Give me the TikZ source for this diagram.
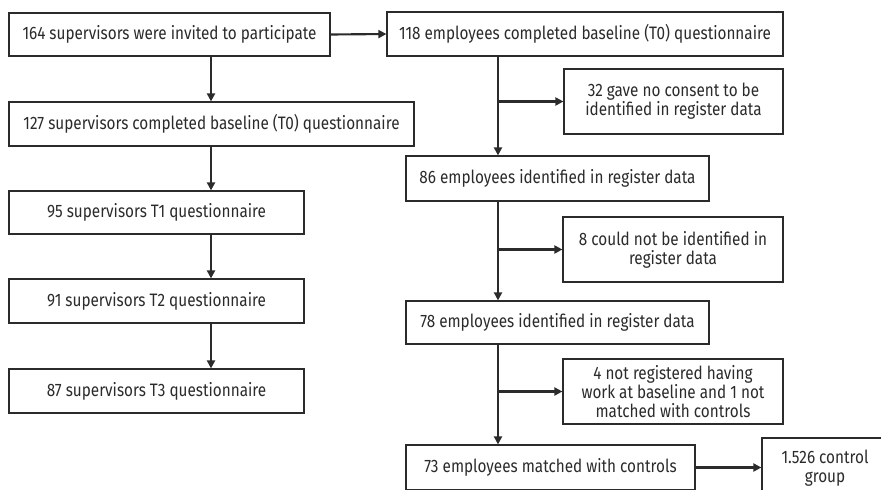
\documentclass[tikz,border=0pt]{standalone}
\usepackage{fontspec}
\setmainfont[FakeStretch=0.85]{Fira Sans}
\usetikzlibrary{arrows.meta}
\definecolor{ink}{HTML}{2B2B2B}
\begin{document}
\begin{tikzpicture}[x=0.75pt,y=-0.75pt,font=\fontsize{13.5}{14.3}\selectfont,text=ink,
  bx/.style 2 args={draw=ink,line width=0.9pt,fill=white,align=center,inner sep=2pt,
    minimum width=#1*0.75pt,minimum height=#2*0.75pt},
  arr/.style={draw=ink,line width=1.6pt,-{Triangle[length=6pt,width=6pt]}}]
  \useasboundingbox (0,0) rectangle (881,489);
  \clip (0,0) rectangle (881,489);
  \coordinate (lx) at (211,0);
  \coordinate (rx) at (498,0);
  % supervisors
  \node[bx={321}{43}] (a1) at (169.5,34.5){164 supervisors were invited to participate};
  \node[bx={405}{44}] (a2) at (211.5,124){127 supervisors completed baseline (T0) questionnaire};
  \node[bx={295}{43}] (a3) at (156.5,212.5){95 supervisors T1 questionnaire};
  \node[bx={295}{44}] (a4) at (156.5,301){91 supervisors T2 questionnaire};
  \node[bx={295}{44}] (a5) at (156.5,391){87 supervisors T3 questionnaire};
  % employees
  \node[bx={396}{44}] (b1) at (585,34){118 employees completed baseline (T0) questionnaire};
  \node[bx={303}{45}] (b2) at (557.5,178.5){86 employees identified in register data};
  \node[bx={303}{43}] (b3) at (557.5,322.5){78 employees identified in register data};
  \node[bx={289}{45}] (b4) at (550.5,467.5){73 employees matched with controls};
  % exclusions
  \node[bx={219}{65}] (c1) at (673.5,101.5){32 gave no consent to be\\identified in register data};
  \node[bx={220}{65}] (c2) at (673,249.5){8 could not be identified in\\register data};
  \node[bx={220}{65}] (c3) at (673,391.5){4 not registered having\\work at baseline and 1 not\\matched with controls};
  \node[bx={126}{60}] (c4) at (825,468){1.526 control\\group};
  % connectors
  \draw[arr] (a1.south -| lx) -- (a2.north -| lx);
  \draw[arr] (a2.south -| lx) -- (a3.north -| lx);
  \draw[arr] (a3.south -| lx) -- (a4.north -| lx);
  \draw[arr] (a4.south -| lx) -- (a5.north -| lx);
  \draw[arr] (a1.east) -- (b1.west);
  \draw[arr] (b1.south -| rx) -- (b2.north -| rx);
  \draw[arr] (b2.south -| rx) -- (b3.north -| rx);
  \draw[arr] (b3.south -| rx) -- (b4.north -| rx);
  \draw[arr] (c1.west -| rx) -- (c1.west);
  \draw[arr] (c2.west -| rx) -- (c2.west);
  \draw[arr] (c3.west -| rx) -- (c3.west);
  \draw[arr] (b4.east) -- (b4.east -| c4.west);
\end{tikzpicture}
\end{document}
